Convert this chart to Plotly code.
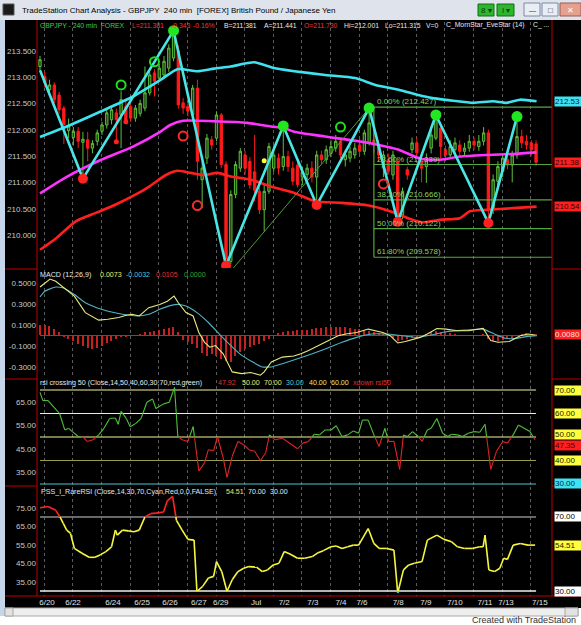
import plotly.graph_objects as go

# ---------------- DATA ----------------
bar_open = [213.20,213.01,212.76,212.85,212.66,212.41,211.98,211.85,211.97,211.76,
            211.81,211.65,211.78,211.97,212.09,212.19,212.32,212.28,212.44,212.44,
            212.22,212.31,212.41,212.70,213.08,212.98,213.04,213.17,213.36,213.50,
            212.51,212.44,212.28,212.79,211.05,211.46,211.81,211.84,212.28,211.34,
            209.50,210.77,211.27,211.52,211.40,211.20,210.83,210.48,210.83,211.27,
            211.46,211.30,211.49,211.27,211.33,211.10,211.15,211.27,211.10,211.52,
            211.43,211.55,211.65,211.78,211.43,211.46,211.52,211.71,211.59,211.75,
            211.80,211.71,211.27,211.43,211.14,211.40,210.39,211.24,211.62,211.75,
            211.40,211.30,211.65,211.84,212.03,211.62,211.52,211.62,211.71,211.59,
            211.65,211.78,211.68,211.78,211.94,210.48,211.02,211.21,211.43,211.33,
            211.52,211.87,211.78,211.75,211.73]
bar_high = [213.40,213.10,212.95,212.90,212.72,212.45,212.21,212.05,212.05,211.96,
            211.96,211.80,212.00,212.15,212.40,212.45,212.40,212.73,212.55,212.52,
            212.47,212.57,213.20,213.10,213.15,213.25,213.40,213.62,213.88,213.60,
            212.60,212.50,212.85,212.95,211.40,211.92,211.88,212.35,212.32,211.40,
            210.85,211.40,211.65,211.60,211.48,211.90,210.90,210.95,211.75,211.70,
            211.55,212.07,211.60,211.40,211.45,211.30,211.35,211.40,211.60,211.60,
            211.70,211.80,211.90,211.85,211.62,211.68,211.75,211.85,212.00,212.41,
            212.10,211.80,211.60,211.55,211.60,211.45,210.90,211.30,211.85,211.85,
            211.50,211.55,212.00,212.28,212.10,211.70,211.80,211.85,211.80,211.75,
            211.90,211.85,211.90,212.05,212.00,211.15,211.40,211.55,211.50,211.60,
            212.24,212.00,211.90,211.80,211.80]
bar_low = [213.13,212.80,212.70,212.50,212.30,211.73,211.84,211.70,211.65,211.07,
           211.40,211.55,211.70,211.90,212.02,212.10,211.77,211.65,212.10,212.15,
           212.15,212.25,212.35,212.65,212.63,212.92,212.98,213.10,213.30,212.40,
           212.30,212.25,212.22,211.05,210.51,211.35,211.62,211.78,211.27,209.42,
           209.45,210.70,211.20,211.15,210.88,210.64,210.40,210.07,210.78,211.20,
           211.15,211.22,211.20,210.95,210.90,210.95,211.00,211.00,210.57,211.35,
           211.35,211.48,211.58,211.45,211.30,211.38,211.45,211.50,211.52,211.70,
           211.55,211.40,211.10,211.15,211.05,210.23,210.30,211.05,211.55,211.45,
           211.00,210.99,211.55,211.80,211.45,211.40,211.45,211.55,211.50,211.50,
           211.58,211.62,211.60,211.70,210.23,210.40,210.95,211.10,211.25,211.00,
           211.45,211.65,211.62,211.50,211.315]
bar_close = [213.33,212.89,212.85,212.57,212.38,212.10,212.07,211.97,211.78,211.82,
             211.65,211.74,211.94,212.09,212.32,212.38,212.19,212.57,212.13,212.22,
             212.41,212.50,212.70,213.04,212.92,213.17,213.30,213.55,213.80,212.47,
             212.41,212.35,212.79,211.40,211.27,211.84,211.71,212.28,211.34,209.55,
             210.77,211.34,211.59,211.27,210.95,210.85,210.48,210.83,211.68,211.52,
             211.27,211.49,211.30,211.02,210.96,211.20,211.27,211.10,211.52,211.43,
             211.62,211.68,211.78,211.52,211.52,211.59,211.65,211.59,211.94,212.13,
             211.71,211.52,211.52,211.21,211.52,210.28,210.83,211.14,211.75,211.56,
             211.27,211.43,211.90,212.25,211.68,211.52,211.68,211.75,211.59,211.65,
             211.78,211.71,211.78,211.94,210.48,211.05,211.30,211.46,211.33,211.52,
             211.87,211.75,211.71,211.62,211.381]

# moving averages (bar index, value)
ma_cyan_x = [0,5.6,12.6,19.5,25.2,28.8,33,36.5,40,44.9,49,53.3,59.8,66.1,70.3,75.2,80.1,83.2,86.6,90.8,95,97.8,100.6,104.1]
ma_cyan_y = [211.86,212.06,212.34,212.63,212.94,213.15,213.11,213.16,213.20,213.28,213.17,213.11,213.04,212.98,212.85,212.76,212.64,212.59,212.55,212.51,212.54,212.51,212.57,212.54]
ma_mag_x = [0,5.7,12.6,19.5,25.2,27.3,30,36.5,43.5,48.4,51.2,53.3,59.8,66.8,71,75.2,79.7,83.9,88,93.6,99.2,104.1]
ma_mag_y = [210.79,211.11,211.42,211.68,211.96,212.09,212.17,212.16,212.13,212.06,212.03,211.96,211.87,211.78,211.71,211.62,211.45,211.43,211.49,211.52,211.54,211.57]
ma_red_x = [0,3.4,7.5,11.7,15.9,20.1,22.9,26.4,28.8,31.6,34.4,37.2,40,44.2,48.4,53.3,57.7,63.3,68.9,72.4,75.2,78,80.1,83.9,88,90.1,93.6,99.2,104.1]
ma_red_y = [209.72,209.94,210.26,210.42,210.58,210.77,210.92,211.14,211.22,211.18,211.14,211.18,211.11,211.05,210.92,210.80,210.64,210.61,210.56,210.48,210.39,210.29,210.24,210.29,210.32,210.45,210.48,210.51,210.54]

# zigzag swing points
zig_x = [0, 9, 28, 39, 51, 58, 69, 75, 83, 94, 100]
zig_y = [213.13, 211.07, 213.88, 209.42, 212.07, 210.57, 212.41, 210.25, 212.28, 210.23, 212.25]
peak_x = [28, 51, 69, 83, 100]
peak_y = [213.88, 212.07, 212.41, 212.28, 212.25]
trough_x = [9, 39, 58, 75, 94]
trough_y = [211.07, 209.42, 210.57, 210.25, 210.23]
# pattern markers
eve_x = [17, 24, 63]
eve_y = [212.85, 213.29, 212.05]
morn_x = [30, 33, 72]
morn_y = [211.88, 210.56, 210.97]
dot_red_x = [16, 18]
dot_red_y = [211.77, 212.15]
dot_yel_x = [47]
dot_yel_y = [211.41]
# trendline & fibonacci
trend_x = [39, 69]
trend_y = [209.21, 212.41]
fib_start = 70
fib_pct = [0.00, 23.60, 38.20, 50.00, 61.80]
fib_price = [212.427, 211.339, 210.666, 210.122, 209.578]

# MACD
macd_x = [0,2.1,3.3,7.2,9.5,12.3,14.2,16.5,18.1,19.3,20.8,22.8,25.1,26.7,28.1,29.0,30.6,32.1,33.3,34.5,35.6,36.8,38.4,39.5,40.3,42.3,44.2,46.2,47.0,48.5,50.8,53.2,54.7,56.3,58.6,60.2,62.5,64.1,66.4,68.8,70.3,71.9,73.4,75.0,76.6,78.1,79.7,81.2,83.2,85.1,87.5,89.8,92.9,94.5,96.0,98.4,100.7,102.3,103.8]
macd_y = [0.462,0.538,0.516,0.375,0.218,0.146,0.155,0.171,0.193,0.202,0.186,0.265,0.296,0.327,0.375,0.312,0.218,0.186,0.029,-0.065,-0.112,-0.096,-0.174,-0.284,-0.347,-0.363,-0.353,-0.378,-0.347,-0.253,-0.206,-0.196,-0.174,-0.143,-0.090,-0.049,-0.002,0.014,0.029,0.061,0.045,0.029,-0.002,-0.071,-0.058,-0.040,-0.018,0.014,0.067,0.061,0.045,0.045,0.067,-0.049,-0.065,-0.058,-0.002,0.014,0.004]
sig_x = [0,1.0,3.3,4.9,7.2,9.5,11.9,15.0,17.3,20.4,22.8,25.1,27.5,29.0,30.6,32.9,35.3,37.6,40.0,42.3,44.6,46.6,48.5,50.8,54.0,57.1,60.2,63.3,66.4,69.5,72.7,75.8,78.9,82.0,85.1,89.0,92.9,95.3,97.6,100.0,102.3,104.2]
sig_y = [0.368,0.422,0.462,0.453,0.390,0.312,0.265,0.224,0.202,0.186,0.202,0.249,0.287,0.296,0.280,0.218,0.124,0.014,-0.096,-0.190,-0.253,-0.300,-0.300,-0.269,-0.222,-0.174,-0.121,-0.065,-0.018,0.014,0.014,-0.002,-0.018,0.004,0.036,0.051,0.061,0.014,-0.027,-0.027,-0.008,-0.002]
macd_hist = [0.10,0.10,0.09,0.06,0.03,-0.01,-0.03,-0.05,-0.08,-0.10,
             -0.12,-0.13,-0.12,-0.10,-0.07,-0.05,-0.03,-0.01,-0.01,0.00,
             0.00,0.01,0.03,0.03,0.04,0.05,0.06,0.07,0.08,0.03,
             -0.04,-0.06,-0.08,-0.12,-0.17,-0.20,-0.18,-0.20,-0.22,-0.24,
             -0.25,-0.20,-0.16,-0.13,-0.11,-0.09,-0.08,-0.05,-0.03,0.00,
             0.02,0.03,0.04,0.04,0.05,0.05,0.05,0.06,0.07,0.07,
             0.08,0.085,0.085,0.08,0.08,0.07,0.06,0.06,0.05,0.045,
             0.035,0.02,0.01,0.00,-0.02,-0.05,-0.04,-0.03,-0.02,-0.01,
             0.00,0.01,0.03,0.04,0.03,0.03,0.02,0.01,0.00,0.00,
             0.00,0.00,0.00,0.01,-0.03,-0.05,-0.05,-0.04,-0.03,-0.02,
             0.00,0.01,0.02,0.01,0.01]

# RSI crossing 50
rsi_x = [0,0.6,1.7,2.9,4.1,5.2,6.0,6.8,8.0,9.1,9.9,11.1,12.3,13.4,14.6,15.8,16.4,17.0,18.1,18.9,20.1,21.2,22.4,23.6,24.3,25.9,27.1,28.2,28.9,29.8,31.0,32.1,33.3,34.5,35.3,36.4,37.2,38.4,39.2,40.3,41.5,42.7,43.8,45.0,46.2,47.3,48.1,49.3,50.8,52.8,54.0,55.1,56.3,57.5,58.6,59.8,61.0,62.1,63.3,64.5,65.7,66.8,67.6,68.8,70.0,71.1,72.3,73.1,74.2,75.4,76.2,77.0,78.1,79.3,80.1,81.2,82.0,83.2,84.4,85.5,86.3,87.5,88.6,89.8,91.0,92.2,93.3,94.5,95.7,97.0,98.0,99.2,100.3,101.5,102.7,103.8]
rsi_y = [69.0,65.5,65.5,62.7,60.0,53.0,53.7,52.3,50.2,49.8,48.1,48.8,50.9,53.7,57.9,58.1,55.4,60.9,57.9,54.4,55.8,57.9,64.8,66.2,62.1,64.1,64.8,71.1,50.2,48.8,48.1,54.4,35.6,39.0,44.6,44.2,50.2,41.1,32.8,41.8,48.1,46.7,44.6,43.9,40.0,43.2,50.9,48.8,49.5,46.7,45.0,47.4,48.1,51.2,50.9,53.0,53.0,54.8,50.2,50.9,52.6,51.6,57.2,57.2,50.9,46.0,53.7,48.1,48.1,36.2,50.9,50.2,52.3,50.2,48.1,53.0,53.7,57.9,51.6,50.2,51.2,50.9,50.2,51.6,52.3,52.0,55.4,36.2,43.9,48.1,47.4,50.9,55.1,53.7,52.3,48.8]
rsi_levels = [70, 60, 50, 40, 30]

# PSS rare RSI
pss_x = [0,1.7,3.3,4.1,4.9,5.6,6.4,7.2,8.8,10.3,11.5,12.6,13.8,15.0,15.8,16.2,17.3,18.5,19.7,20.8,22.0,23.2,24.3,25.9,26.7,27.8,28.6,29.8,31.0,32.3,32.9,34.1,35.3,36.4,37.0,38.1,39.2,40.3,41.5,42.7,43.8,45.4,46.6,47.7,48.9,50.1,51.2,52.4,54.0,55.5,57.1,58.3,59.4,61.0,62.1,63.3,64.5,65.7,66.8,68.8,70.0,71.1,72.7,74.2,75.0,76.2,77.3,78.5,80.1,81.2,83.2,84.7,86.3,87.5,89.0,90.6,92.2,92.9,93.3,94.1,95.3,96.4,97.2,98.0,99.2,100.7,102.3,103.8]
pss_y = [75.0,75.7,73.6,70.4,66.4,62.9,61.1,53.0,50.4,48.2,48.2,49.5,51.3,53.9,62.9,60.2,62.9,62.5,62.0,62.9,70.0,71.8,72.1,72.7,78.9,81.1,68.2,62.9,57.9,57.5,29.8,32.5,37.0,37.9,45.9,40.5,29.8,36.1,40.5,42.3,43.2,42.9,40.5,41.4,44.1,45.0,51.3,50.0,47.7,47.7,48.6,50.7,51.8,53.9,54.3,53.0,53.9,54.8,54.8,63.75,55.7,53.0,53.0,52.1,28.9,41.4,44.1,45.0,45.9,57.5,60.2,57.9,56.6,53.9,53.0,53.0,53.9,53.9,60.2,41.4,40.5,42.3,47.7,47.1,54.8,55.7,54.8,54.8]
pss_levels = [70, 30]

# axis ticks
date_tickvals = [1.47, 6.92, 15.3, 21.4, 27.25, 33.3, 37.9, 45.3, 51.2, 57.2, 63.1, 67.5, 75.1, 80.9, 87.0, 93.3, 97.7, 104.8]
date_labels = ['6/20', '6/22', '6/24', '6/25', '6/26', '6/27', '6/29', 'Jul', '7/2', '7/3', '7/4', '7/6', '7/8', '7/9', '7/10', '7/11', '7/13', '7/15']
price_ticks = [210.0, 210.5, 211.0, 211.5, 212.0, 212.5, 213.0, 213.5]
macd_ticks = [-0.3, -0.1, 0.1, 0.3, 0.5]
rsi_ticks = [35, 45, 55, 65]
pss_ticks = [35, 45, 55, 65, 75]

# ---------------- LAYOUT HELPERS ----------------
W, H = 581, 625
FONT = "Liberation Sans, Arial, sans-serif"


def fx(px):
    return px / W


def fy(py):
    return 1 - py / H


X_RANGE = [-0.63, 107.34]
GRID_TICK0 = 0.9
LAST = len(bar_close) - 1


def zone_split(xs, ys, cuts):
    out = {z: ([], []) for z in range(len(cuts) + 1)}

    def zone(v):
        return sum(v > c for c in cuts)

    for k in range(len(xs) - 1):
        x0, y0, x1, y1 = xs[k], ys[k], xs[k + 1], ys[k + 1]
        cr = []
        for c in cuts:
            if (y0 - c) * (y1 - c) < 0:
                t = (c - y0) / (y1 - y0)
                cr.append((t, x0 + t * (x1 - x0), c))
        cr.sort()
        pts = [(x0, y0)] + [(a, b) for _, a, b in cr] + [(x1, y1)]
        for a, b in zip(pts[:-1], pts[1:]):
            z = zone((a[1] + b[1]) / 2)
            out[z][0].extend([a[0], b[0], None])
            out[z][1].extend([a[1], b[1], None])
    return out


fig = go.Figure()

# ---- price panel ----
fig.add_trace(go.Candlestick(
    x=list(range(len(bar_close))), open=bar_open, high=bar_high, low=bar_low, close=bar_close,
    increasing=dict(line=dict(color='#5cbf3c', width=1), fillcolor='#1f3d14'),
    decreasing=dict(line=dict(color='#ff1a1a', width=1), fillcolor='#ff1a1a'),
    whiskerwidth=0, xaxis='x', yaxis='y', hoverinfo='skip'))
for xs, ys, col in [(ma_cyan_x, ma_cyan_y, '#3fe3f0'), (ma_mag_x, ma_mag_y, '#ff33ff'), (ma_red_x, ma_red_y, '#ff1f1f')]:
    fig.add_trace(go.Scatter(x=xs, y=ys, mode='lines', line=dict(color=col, width=2.6, shape='spline', smoothing=0.6),
                             xaxis='x', yaxis='y', hoverinfo='skip'))
fig.add_trace(go.Scatter(x=trend_x, y=trend_y, mode='lines', line=dict(color='#4f9a3a', width=1),
                         xaxis='x', yaxis='y', hoverinfo='skip'))
for p in fib_price:
    fig.add_trace(go.Scatter(x=[fib_start, X_RANGE[1]], y=[p, p], mode='lines',
                             line=dict(color='#55a840', width=1.2), xaxis='x', yaxis='y', hoverinfo='skip'))
fig.add_trace(go.Scatter(x=[fib_start, fib_start], y=[fib_price[0], fib_price[-1]], mode='lines',
                         line=dict(color='#55a840', width=1.2), xaxis='x', yaxis='y', hoverinfo='skip'))
fig.add_trace(go.Scatter(x=zig_x, y=zig_y, mode='lines', line=dict(color='#4ae6e6', width=2.6),
                         xaxis='x', yaxis='y', hoverinfo='skip'))
fig.add_trace(go.Scatter(x=peak_x, y=peak_y, mode='markers', marker=dict(color='#22e622', size=11, line=dict(width=0)),
                         xaxis='x', yaxis='y', hoverinfo='skip'))
fig.add_trace(go.Scatter(x=trough_x, y=trough_y, mode='markers', marker=dict(color='#ff2020', size=10, line=dict(width=0)),
                         xaxis='x', yaxis='y', hoverinfo='skip'))
fig.add_trace(go.Scatter(x=eve_x, y=eve_y, mode='markers',
                         marker=dict(symbol='circle-open', color='#22dd22', size=9, line=dict(width=2)),
                         xaxis='x', yaxis='y', hoverinfo='skip'))
fig.add_trace(go.Scatter(x=morn_x, y=morn_y, mode='markers',
                         marker=dict(symbol='circle-open', color='#ff2a2a', size=9, line=dict(width=2)),
                         xaxis='x', yaxis='y', hoverinfo='skip'))
fig.add_trace(go.Scatter(x=dot_red_x, y=dot_red_y, mode='markers', marker=dict(color='#ff2020', size=5),
                         xaxis='x', yaxis='y', hoverinfo='skip'))
fig.add_trace(go.Scatter(x=dot_yel_x, y=dot_yel_y, mode='markers', marker=dict(color='#ffff30', size=5),
                         xaxis='x', yaxis='y', hoverinfo='skip'))

# ---- MACD panel ----
fig.add_trace(go.Bar(x=list(range(len(macd_hist))), y=macd_hist, width=0.28, marker=dict(color='#c42222', line=dict(width=0)),
                     xaxis='x2', yaxis='y2', hoverinfo='skip'))
fig.add_trace(go.Scatter(x=[0, LAST], y=[0, 0], mode='lines', line=dict(color='#1e7a1e', width=1.2),
                         xaxis='x2', yaxis='y2', hoverinfo='skip'))
fig.add_trace(go.Scatter(x=sig_x, y=sig_y, mode='lines', line=dict(color='#4fb4c4', width=1.1, shape='spline', smoothing=0.4),
                         xaxis='x2', yaxis='y2', hoverinfo='skip'))
fig.add_trace(go.Scatter(x=macd_x, y=macd_y, mode='lines', line=dict(color='#eaea80', width=1.1),
                         xaxis='x2', yaxis='y2', hoverinfo='skip'))

# ---- RSI panel ----
rsi_level_colors = ['#f4f4a0', '#f4f4a0', '#f4f4a0', '#9c9c4c', '#46c4cc']
for lv, col in zip(rsi_levels, rsi_level_colors):
    fig.add_trace(go.Scatter(x=[0, LAST], y=[lv, lv], mode='lines', line=dict(color=col, width=1.2),
                             xaxis='x3', yaxis='y3', hoverinfo='skip'))
rs = zone_split(rsi_x, rsi_y, [50])
for z, col in [(0, '#e02424'), (1, '#4fc03a')]:
    fig.add_trace(go.Scatter(x=rs[z][0], y=rs[z][1], mode='lines', line=dict(color=col, width=1.1),
                             xaxis='x3', yaxis='y3', hoverinfo='skip'))

# ---- PSS panel ----
for lv, col in zip(pss_levels, ['#8a8a8a', '#f0f0f0']):
    fig.add_trace(go.Scatter(x=[0, LAST], y=[lv, lv], mode='lines', line=dict(color=col, width=1.4),
                             xaxis='x4', yaxis='y4', hoverinfo='skip'))
ps = zone_split(pss_x, pss_y, [30, 70])
for z, col in [(0, '#40dede'), (1, '#f6f640'), (2, '#ff2424')]:
    fig.add_trace(go.Scatter(x=ps[z][0], y=ps[z][1], mode='lines', line=dict(color=col, width=1.6),
                             xaxis='x4', yaxis='y4', hoverinfo='skip'))

# ---------------- AXES ----------------
def xax(show_labels=False):
    d = dict(domain=[fx(37), fx(552)], range=X_RANGE, showgrid=False, zeroline=False, showline=False,
             ticks='', fixedrange=True, showticklabels=show_labels,
             minor=dict(tick0=GRID_TICK0, dtick=6, showgrid=True, gridcolor='#5c5c5c', gridwidth=1, griddash='3px,3px'))
    return d


tick_font = dict(family=FONT, size=8, color='#c8c8c8')


def yax(dom, rng, tv, fmt, side='left', overlay=None):
    d = dict(domain=dom, range=rng, tickvals=tv, ticktext=[fmt.format(v) for v in tv], showgrid=False,
             zeroline=False, showline=False, ticks='', tickfont=tick_font, fixedrange=True, side=side)
    if overlay:
        d['overlaying'] = overlay
    return d


dom_price = [fy(268), fy(22)]
dom_macd = [fy(378), fy(270)]
dom_rsi = [fy(485), fy(380)]
dom_pss = [fy(596), fy(487)]
rng_price = [209.374, 214.045]
rng_macd = [-0.405, 0.624]
rng_rsi = [29.57, 74.26]
rng_pss = [27.3, 86.2]

x1 = xax()
x1['rangeslider'] = dict(visible=False)
x2 = xax(); x2['matches'] = 'x'; x2['anchor'] = 'y2'
x3 = xax(); x3['matches'] = 'x'; x3['anchor'] = 'y3'
x4 = xax(True); x4['matches'] = 'x'; x4['anchor'] = 'y4'
x4['tickvals'] = date_tickvals
x4['ticktext'] = date_labels
x4['tickfont'] = dict(family=FONT, size=8, color='#e0e0e0')

fig.update_layout(
    width=W, height=H, margin=dict(l=0, r=0, t=0, b=0), showlegend=False,
    paper_bgcolor='#ffffff', plot_bgcolor='rgba(0,0,0,0)', bargap=0,
    font=dict(family=FONT, size=8, color='#c8c8c8'),
    xaxis=x1, xaxis2=x2, xaxis3=x3, xaxis4=x4,
    yaxis=dict(yax(dom_price, rng_price, price_ticks, '{:.3f}'), anchor='x'),
    yaxis2=dict(yax(dom_macd, rng_macd, macd_ticks, '{:.4f}'), anchor='x2'),
    yaxis3=dict(yax(dom_rsi, rng_rsi, rsi_ticks, '{:.2f}'), anchor='x3'),
    yaxis4=dict(yax(dom_pss, rng_pss, pss_ticks, '{:.2f}'), anchor='x4'),
    yaxis5=dict(yax(dom_price, rng_price, price_ticks, '{:.3f}', 'right', 'y'), anchor='x'),
    yaxis6=dict(yax(dom_macd, rng_macd, macd_ticks, '{:.4f}', 'right', 'y2'), anchor='x2'),
    yaxis7=dict(yax(dom_rsi, rng_rsi, rsi_ticks, '{:.2f}', 'right', 'y3'), anchor='x3'),
    yaxis8=dict(yax(dom_pss, rng_pss, pss_ticks, '{:.2f}', 'right', 'y4'), anchor='x4'),
)

# ---------------- SHAPES (window chrome, frame) ----------------
shapes = []


def prect(x0, y0, x1_, y1, fill, line=None, lw=0, layer='below'):
    shapes.append(dict(type='rect', xref='paper', yref='paper', x0=fx(x0), x1=fx(x1_), y0=fy(y1), y1=fy(y0),
                       fillcolor=fill, line=dict(color=line or fill, width=lw), layer=layer))


def pline(x0, y0, x1_, y1, col, w=1, layer='above'):
    shapes.append(dict(type='line', xref='paper', yref='paper', x0=fx(x0), x1=fx(x1_), y0=fy(y0), y1=fy(y1),
                       line=dict(color=col, width=w), layer=layer))


prect(0, 0, 581, 20, '#dfe4ec')
prect(0, 20, 5, 616, '#c6d6ea')
prect(5, 20, 581, 608, '#000000')
prect(5, 608, 578, 616, '#eeeeee', '#a8a8a8', 1)
prect(5, 608, 13, 616, '#e2e2e2', '#a8a8a8', 1)
prect(565, 608, 578, 616, '#e2e2e2', '#a8a8a8', 1)
prect(3, 4, 14, 15, '#1a1a1a', '#555555', 1)
prect(478, 4, 494, 16, '#2db52d', '#0f6f0f', 1)
prect(497, 4, 514, 16, '#2db52d', '#0f6f0f', 1)
prect(524, 3, 540, 16, '#e9edf4', '#7d8aa3', 1)
prect(542, 3, 558, 16, '#e9edf4', '#7d8aa3', 1)
prect(560, 3, 581, 16, '#e6a090', '#9b5a50', 1)
RED = '#b80000'
pline(37, 20, 37, 596, RED)
pline(552, 20, 552, 596, RED)
for yy in [269, 379, 486]:
    pline(5, yy, 37, yy, RED)
    pline(552, yy, 581, yy, RED)
pline(5, 596, 581, 596, RED)
fig.update_layout(shapes=shapes)

# ---------------- ANNOTATIONS ----------------
ann = []


def ptext(px, py, text, col, size=8, anchor='left', bg=None):
    a = dict(xref='paper', yref='paper', x=fx(px), y=fy(py), text=text, showarrow=False, xanchor=anchor,
             yanchor='middle', font=dict(family=FONT, size=size, color=col))
    if bg:
        a['bgcolor'] = bg
    ann.append(a)


ptext(20, 10, 'TradeStation Chart Analysis - GBPJPY  240 min  [FOREX] British Pound / Japanese Yen', '#000000', 8)
ptext(486, 10, '8 ▾', '#0b3d0b', 8, 'center')
ptext(505.5, 10, 'I ▾', '#0b3d0b', 8, 'center')
ptext(532, 10, '—', '#334', 7, 'center')
ptext(550, 10, '□', '#334', 8, 'center')
ptext(570.5, 10, '✕', '#ffffff', 8, 'center')
ptext(578, 620, 'Created with TradeStation', '#303030', 9, 'right')

price_header = [("GBPJPY - 240 min  FOREX", '#3cd43c', 38), ("L=211.381", '#ff3030', 130), ("-0.343", '#ff3030', 169),
                ("-0.16%", '#ff3030', 191), ("B=211.381", '#e8e8e8', 222), ("A=211.441", '#e8e8e8', 262),
                ("O=211.730", '#ff3030', 302), ("Hi=212.001", '#e8e8e8', 342), ("Lo=211.315", '#e8e8e8', 383),
                ("V=0", '#e8e8e8', 424), ("C_MornStar_EveStar (14)", '#e8e8e8', 444)]
macd_header = [("MACD (12,26,9)", '#e8e8e8', 38), ("0.0073", '#e8e870', 98), ("-0.0032", '#50c0d0', 124),
               ("0.0105", '#e03030', 154), ("0.0000", '#30a030', 182)]
rsi_header = [("rsi crossing 50 (Close,14,50,40,60,30,70,red,green)", '#e8e8e8', 38), ("47.92", '#e03030', 216),
              ("50.00", '#e8e870', 240), ("70.00", '#e8e870', 262), ("30.00", '#50c0d0', 284),
              ("40.00", '#e8e870', 307), ("60.00", '#e8e870', 329), ("xdown rsi50", '#e03030', 351)]
pss_header = [("PSS_I_RareRSI (Close,14,30,70,Cyan,Red,0,0,FALSE)", '#e8e8e8', 39), ("54.51", '#e8e870', 224),
              ("70.00", '#e8e8e8', 246), ("30.00", '#e8e8e8', 268)]
for t, c, px in price_header:
    ptext(px, 25, t, c, 6.8)
ptext(551, 25, 'C_ ...', '#e8e8e8', 6.8, 'right')
for hdr, py in [(macd_header, 275), (rsi_header, 383), (pss_header, 492)]:
    for t, c, px in hdr:
        ptext(px, py, t, c, 7.1)

# fibonacci labels
for pct, p in zip(fib_pct, fib_price):
    ann.append(dict(xref='x', yref='y', x=fib_start + 0.3, y=p, text=f'{pct:.2f}% ({p:.3f})', showarrow=False,
                    xanchor='left', yanchor='bottom', yshift=-1, font=dict(family=FONT, size=8, color='#8cd060')))

# right-axis value boxes (axis, value, text, background, text colour, vertical nudge)
value_boxes = [
    ('y', 212.531, '212.53', '#3fe3f0', '#00205a', 0),
    ('y', 211.381, '211.38', '#ff1f1f', '#3a0000', 0),
    ('y', 210.541, '210.54', '#ff1f1f', '#3a0000', 0),
    ('y2', 0.008, '0.0080', '#ff1f1f', '#ffe0e0', 0),
    ('y3', 70, '70.00', '#ffff40', '#202000', 0),
    ('y3', 60, '60.00', '#ffff40', '#202000', 0),
    ('y3', 50, '50.00', '#ffff40', '#202000', 3),
    ('y3', 47.35, '47.35', '#ff1f1f', '#3a0000', -2),
    ('y3', 40, '40.00', '#ffff40', '#202000', 0),
    ('y3', 30, '30.00', '#3fe3f0', '#00205a', 0),
    ('y4', 70, '70.00', '#ffffff', '#000000', 0),
    ('y4', 54.51, '54.51', '#ffff40', '#202000', 0),
    ('y4', 30, '30.00', '#ffffff', '#000000', 0),
]
for yr, v, t, bg, fc, sh in value_boxes:
    ann.append(dict(xref='paper', yref=yr, x=fx(553.5), y=v, text=t, showarrow=False, xanchor='left',
                    yanchor='middle', align='left', width=27, height=9, bgcolor=bg, borderpad=0, yshift=sh,
                    font=dict(family=FONT, size=8, color=fc)))

fig.update_layout(annotations=ann)

fig.write_html("out.html")
